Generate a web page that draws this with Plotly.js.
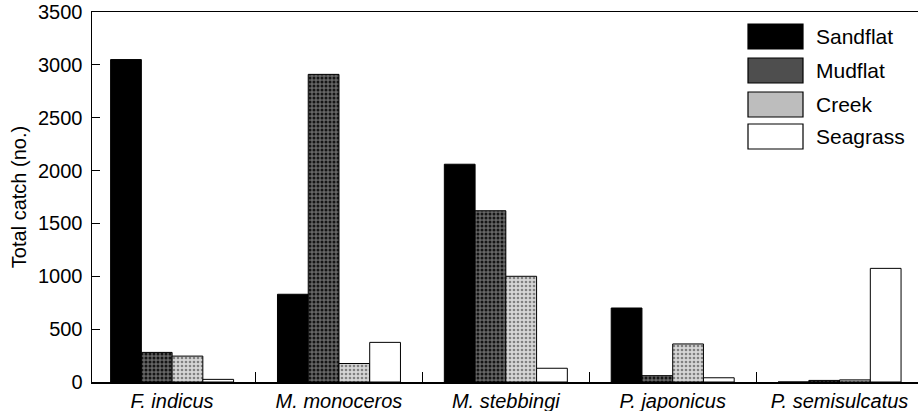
<!DOCTYPE html>
<html>
<head>
<meta charset="utf-8">
<script src="https://cdn.plot.ly/plotly-3.0.1.min.js"></script>
<style>html,body{margin:0;padding:0;background:#fff;}#chart{width:918px;height:411px;}</style>
</head>
<body>
<div id="chart"></div>
<script>
// Data
const species = ["F. indicus", "M. monoceros", "M. stebbingi", "P. japonicus", "P. semisulcatus"];
const habitats = ["Sandflat", "Mudflat", "Creek", "Seagrass"];
const sandflat = [3050, 830, 2060, 700, 0];
const mudflat  = [280, 2910, 1620, 60, 15];
const creek    = [245, 175, 1000, 360, 20];
const seagrass = [25, 375, 130, 40, 1075];
const yTicks = [0, 500, 1000, 1500, 2000, 2500, 3000, 3500];

const W = 918, H = 411;
const M = {l: 92, r: 0, t: 12, b: 29};
const PW = W - M.l - M.r, PH = H - M.t - M.b;
const fx = p => (p - M.l) / PW;
const fy = p => (H - M.b - p) / PH;

const FONT = "Liberation Sans, Arial, Helvetica, sans-serif";
const FS = 20;

const styles = [
  {color: "#000000", pattern: null},
  {color: "#4e4e4e", pattern: {shape: ".", fgcolor: "#151515", bgcolor: "#666666", size: 4, solidity: 0.45}},
  {color: "#bdbdbd", pattern: {shape: ".", fgcolor: "#808080", bgcolor: "#d6d6d6", size: 4, solidity: 0.35}},
  {color: "#ffffff", pattern: null}
];
const series = [sandflat, mudflat, creek, seagrass];
const labels = species.map(s => "<i>" + s + "</i>");

const traces = series.map((vals, i) => {
  const mk = {color: styles[i].color, line: {color: "#000", width: 1}};
  if (styles[i].pattern) mk.pattern = styles[i].pattern;
  return {type: "bar", name: habitats[i], x: labels, y: vals, marker: mk, showlegend: false, hoverinfo: "x+y+name"};
});

// custom legend (large boxes like the original)
const legTop = [24, 58, 92, 124];
const shapes = [], annotations = [];
legTop.forEach((t, i) => {
  shapes.push({type: "rect", xref: "paper", yref: "paper",
    x0: fx(748), x1: fx(803), y0: fy(t + 25), y1: fy(t),
    fillcolor: styles[i].color, line: {color: "#000", width: 1.2}});
  annotations.push({xref: "paper", yref: "paper", x: fx(814), y: fy(t + 12.5),
    xanchor: "left", yanchor: "middle", text: habitats[i], showarrow: false,
    font: {family: FONT, size: 21, color: "#000"}});
});

const layout = {
  width: W, height: H,
  margin: M,
  paper_bgcolor: "#fff", plot_bgcolor: "#fff",
  font: {family: FONT, size: FS, color: "#000"},
  barmode: "group", bargap: 0.263, bargroupgap: 0,
  showlegend: false,
  xaxis: {
    type: "category", range: [-0.48, 4.47], autorange: false,
    showline: true, linecolor: "#000", linewidth: 1.5, mirror: true,
    ticks: "inside", tickson: "boundaries", ticklen: 10, tickcolor: "#000", tickwidth: 1,
    showgrid: false, zeroline: false,
    tickfont: {family: FONT, size: FS, color: "#000"}
  },
  yaxis: {
    range: [0, 3500], autorange: false,
    tickvals: yTicks, ticktext: yTicks.map(String),
    showline: true, linecolor: "#000", linewidth: 1.5,
    ticks: "inside", ticklen: 8, tickcolor: "#000", tickwidth: 1,
    showgrid: false, zeroline: false,
    tickfont: {family: FONT, size: FS, color: "#000"},
    ticklabelstandoff: 4,
    title: {text: "Total catch (no.)", font: {family: FONT, size: FS, color: "#000"}, standoff: 6}
  },
  shapes: shapes,
  annotations: annotations
};

Plotly.newPlot("chart", traces, layout, {displayModeBar: false, staticPlot: true});
</script>
</body>
</html>
